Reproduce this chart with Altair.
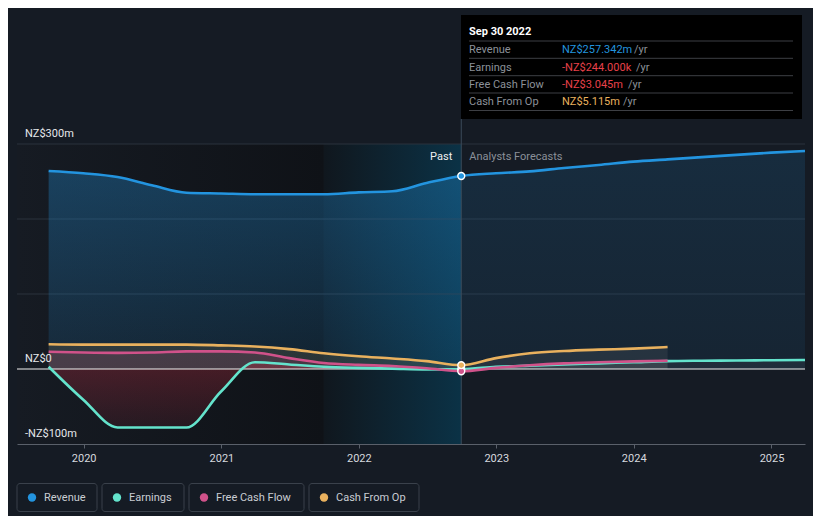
import altair as alt
import pandas as pd

# ---------------- data ----------------
series = ["Revenue", "Earnings", "Free Cash Flow", "Cash From Op"]
colors = ["#2394df", "#64e3cc", "#d0528a", "#e9b15e"]

past_dates = ["2019-09-30", "2019-12-31", "2020-03-31", "2020-06-30", "2020-09-30",
              "2020-12-31", "2021-03-31", "2021-06-30", "2021-09-30", "2021-12-31",
              "2022-03-31", "2022-06-30", "2022-09-30"]
revenue_past = [264, 261, 256, 245, 235, 234, 233, 233, 233, 235.5, 237, 248, 257.342]
earnings_past = [3, -41, -78, -78, -78, -30, 9, 6, 3, 1.5, 0.5, -0.5, -0.244]
fcf_past = [23, 22, 21.5, 22, 23.5, 23.5, 22, 14.5, 8, 5.5, 4, 1, -3.045]
cfo_past = [33, 32.5, 32.5, 32.5, 32.5, 31.5, 30, 26.5, 21, 17, 14, 10.5, 5.115]

fc_dates = ["2022-09-30", "2022-12-31", "2023-03-31", "2023-06-30", "2023-09-30",
            "2023-12-31", "2024-03-31", "2024-06-30", "2024-09-30", "2024-12-31",
            "2025-03-31"]
revenue_fc = [257.342, 261, 263.5, 268, 272, 276.5, 279.5, 282.5, 285.5, 288.5, 290.7]
earnings_fc = [-0.244, 3, 4.5, 6, 7.5, 9, 10.5, 11, 11.3, 11.7, 12]
fcf_fc = [-3.045, 1.5, 5, 7.5, 9, 10.2, 11]
cfo_fc = [5.115, 14.5, 21, 24, 25.8, 27.2, 29.3]

year_ticks = [2020, 2021, 2022, 2023, 2024, 2025]
y_label_vals = [-100, 0, 300]
y_label_text = ["-NZ$100m", "NZ$0", "NZ$300m"]
grid_vals = [100, 200, 300]

tip_title = "Sep 30 2022"
tip_labels = ["Revenue", "Earnings", "Free Cash Flow", "Cash From Op"]
tip_values = ["NZ$257.342m", "-NZ$244.000k", "-NZ$3.045m", "NZ$5.115m"]
tip_colors = ["#2394df", "#e8414a", "#e8414a", "#e9b15e"]

# ---------------- tables ----------------
def table(name, dates, vals, phase):
    return pd.DataFrame({"date": dates[:len(vals)], "value": vals,
                         "series": name, "phase": phase})

past = pd.concat([table(s, past_dates, v, "past") for s, v in
                  zip(series, [revenue_past, earnings_past, fcf_past, cfo_past])])
fc = pd.concat([table(s, fc_dates, v, "fc") for s, v in
                zip(series, [revenue_fc, earnings_fc, fcf_fc, cfo_fc])])
lines = pd.concat([past, fc[fc["date"] != "2022-09-30"]]).sort_values(["series", "date"])
now = past[past["date"] == "2022-09-30"]

W, H = 788, 300
FONT = "Roboto"

xscale = alt.Scale(type="utc", domain=[alt.DateTime(year=2019, month=7, date=8, utc=True),
                                       alt.DateTime(year=2025, month=3, date=31, utc=True)])
yscale = alt.Scale(domain=[-100, 300], nice=False, zero=False)
cscale = alt.Scale(domain=series, range=colors)

XAX = alt.Axis(
    values=[alt.DateTime(year=y, month=1, date=1, utc=True) for y in year_ticks],
    labelExpr="utcFormat(datum.value, '%Y')", title=None, grid=False,
    domainColor="#5a606a", tickColor="#5a606a", tickSize=4, labelPadding=4,
    labelColor="#d5d9df", labelFont=FONT, labelFontSize=11)

def xenc(field="date"):
    return alt.X(f"{field}:T", scale=xscale, axis=XAX)

X = xenc()
Y = alt.Y("value:Q", scale=yscale, axis=None)

# background bands
bands = pd.DataFrame({"start": ["2019-07-08"], "end": ["2021-09-30"]})
band1 = alt.Chart(bands).mark_rect(
    fill=alt.Gradient(gradient="linear", x1=0, x2=1, y1=0, y2=0,
                      stops=[alt.GradientStop(offset=0, color="#161b23"),
                             alt.GradientStop(offset=1, color="#0f1217")])
).encode(x=xenc("start"), x2="end:T", y=alt.value(0), y2=alt.value(H))
bands2 = pd.DataFrame({"start": ["2021-09-30"], "end": ["2022-09-30"]})
band2 = alt.Chart(bands2).mark_rect(
    fill=alt.Gradient(gradient="linear", x1=0, x2=1, y1=0, y2=0,
                      stops=[alt.GradientStop(offset=0, color="#10171e"),
                             alt.GradientStop(offset=1, color="#0b3246")])
).encode(x=xenc("start"), x2="end:T", y=alt.value(0), y2=alt.value(H))

grid = alt.Chart(pd.DataFrame({"v": grid_vals})).mark_rule(color="#2b323c", strokeWidth=1).encode(
    y=alt.Y("v:Q", scale=yscale, axis=None), x=alt.value(0), x2=alt.value(W))

def area(df, name, fill):
    return alt.Chart(df[df["series"] == name]).mark_area(
        interpolate="monotone", fill=fill).encode(x=X, y=Y, y2=alt.datum(0))

def grad(rgb, a0, a1):
    return alt.Gradient(gradient="linear", x1=0, x2=0, y1=0, y2=1,
                        stops=[alt.GradientStop(offset=0, color=f"rgba({rgb},{a0})"),
                               alt.GradientStop(offset=1, color=f"rgba({rgb},{a1})")])

areas = [
    area(past, "Revenue", grad("35,148,223", 0.32, 0.12)),
    area(fc, "Revenue", grad("35,148,223", 0.14, 0.08)),
    area(past, "Cash From Op", "rgba(233,177,94,0.12)"),
    area(past, "Free Cash Flow", "rgba(208,82,138,0.16)"),
    area(past, "Earnings", grad("200,45,65", 0.30, 0.10)),
    area(fc, "Cash From Op", "rgba(150,150,150,0.13)"),
    area(fc, "Free Cash Flow", "rgba(150,150,150,0.10)"),
    area(fc, "Earnings", "rgba(150,150,150,0.08)"),
]

zero = alt.Chart(pd.DataFrame({"v": [0]})).mark_rule(color="#f2f2f2", strokeWidth=1.2).encode(
    y=alt.Y("v:Q", scale=yscale, axis=None), x=alt.value(0), x2=alt.value(W))

vline = alt.Chart(pd.DataFrame({"date": ["2022-09-30"]})).mark_rule(color="#3b4b5a", strokeWidth=1).encode(
    x=X, y=alt.value(-25), y2=alt.value(H))

line_layer = alt.Chart(lines).mark_line(interpolate="monotone", strokeWidth=2.6).encode(
    x=X, y=Y, color=alt.Color("series:N", scale=cscale, legend=None),
    order=alt.Order("date:T"), detail="series:N")

pts = alt.Chart(now).mark_circle(size=48, opacity=1, stroke="#ffffff", strokeWidth=1.4).encode(
    x=X, y=Y, color=alt.Color("series:N", scale=cscale, legend=None))

past_txt = alt.Chart(pd.DataFrame({"date": ["2022-09-30"]})).mark_text(
    align="right", dx=-9, font=FONT, fontSize=11, color="#f0f0f0", baseline="alphabetic").encode(
    x=X, y=alt.value(16), text=alt.value("Past"))
fc_txt = alt.Chart(pd.DataFrame({"date": ["2022-09-30"]})).mark_text(
    align="left", dx=8, font=FONT, fontSize=11, color="#8a9099", baseline="alphabetic").encode(
    x=X, y=alt.value(16), text=alt.value("Analysts Forecasts"))

ylab = alt.Chart(pd.DataFrame({"v": y_label_vals, "t": y_label_text})).mark_text(
    align="left", baseline="alphabetic", dy=-7, font=FONT, fontSize=11, color="#e6e8eb").encode(
    y=alt.Y("v:Q", scale=yscale, axis=None), x=alt.value(8), text="t:N")

# tooltip box (plot-area pixel coordinates)
tip_box = alt.Chart(pd.DataFrame({"a": [0]})).mark_rect(fill="#000000").encode(
    x=alt.value(444), x2=alt.value(785), y=alt.value(-129), y2=alt.value(-25))
tip_head = alt.Chart(pd.DataFrame({"a": [0]})).mark_text(
    align="left", baseline="alphabetic", font=FONT, fontSize=11, fontWeight="bold", color="#ffffff").encode(
    x=alt.value(452), y=alt.value(-109.5), text=alt.value(tip_title))
sep_y = [-103, -85.7, -68.3, -51, -33.5]
tip_seps = alt.Chart(pd.DataFrame({"y": sep_y})).mark_rule(color="#3d3f44", strokeWidth=1).encode(
    y=alt.Y("y:Q", scale=None), x=alt.value(452), x2=alt.value(776))
row_y = [-90.8 + 17.4 * i for i in range(4)]
yr_x = [617, 619, 611, 606]
tip_df = pd.DataFrame({"label": tip_labels, "val": tip_values, "col": tip_colors,
                       "y": row_y, "yrx": yr_x})
tip_lab = alt.Chart(tip_df).mark_text(align="left", baseline="alphabetic", font=FONT, fontSize=11,
                                      color="#8c9199").encode(
    x=alt.value(452), y=alt.Y("y:Q", scale=None), text="label:N")
tip_val = alt.Chart(tip_df).mark_text(align="left", baseline="alphabetic", font=FONT, fontSize=11).encode(
    x=alt.value(545), y=alt.Y("y:Q", scale=None), text="val:N",
    color=alt.Color("col:N", scale=None))
tip_yr = alt.Chart(tip_df).mark_text(align="left", baseline="alphabetic", font=FONT, fontSize=11,
                                     color="#8c9199").encode(
    x=alt.X("yrx:Q", scale=None), y=alt.Y("y:Q", scale=None), text=alt.value("/yr"))

# legend (boxes with dot and label)
leg_df = pd.DataFrame({"series": series,
                       "x0": [0, 85, 172, 292], "x1": [80, 167, 287, 402]})
leg_df["dx"] = leg_df["x0"] + 15
leg_df["tx"] = leg_df["x0"] + 27
leg_box = alt.Chart(leg_df).mark_rect(fill="#151b24", stroke="#3a414b", strokeWidth=1, cornerRadius=3).encode(
    x=alt.X("x0:Q", scale=None), x2="x1:Q", y=alt.value(339.5), y2=alt.value(367.5))
leg_dot = alt.Chart(leg_df).mark_circle(size=70, opacity=1).encode(
    x=alt.X("dx:Q", scale=None), y=alt.value(353.5),
    color=alt.Color("series:N", scale=cscale, legend=None))
leg_txt = alt.Chart(leg_df).mark_text(align="left", baseline="middle", font=FONT, fontSize=11,
                                      color="#c9cdd3").encode(
    x=alt.X("tx:Q", scale=None), y=alt.value(353.5), text="series:N")

chart = alt.layer(
    band1, band2, grid, *areas, zero, vline, line_layer, pts,
    past_txt, fc_txt, ylab, tip_box, tip_seps, tip_head, tip_lab, tip_val, tip_yr,
    leg_box, leg_dot, leg_txt
).properties(
    width=W, height=H, autosize="none",
    padding={"left": 9, "top": 136, "right": 8, "bottom": 72},
).configure(background="#151b24").configure_view(stroke=None)

chart.save("out.html", embed_options={"renderer": "svg", "actions": False})
